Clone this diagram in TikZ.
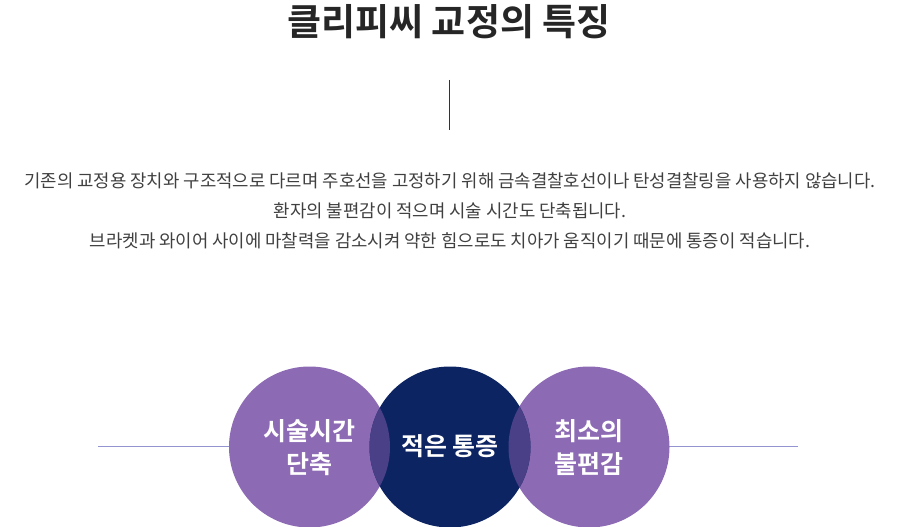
\documentclass[tikz,border=0pt]{standalone}
\usepackage{fontspec}
\setmainfont{Noto Sans CJK KR}
\newfontfamily\krbold{Noto Sans CJK KR Bold}
\begin{document}
\begin{tikzpicture}[x=1pt,y=-1pt,
  body/.style={font=\fontsize{17.8}{20}\selectfont, text=black!75, inner sep=0},
  ctext/.style={font=\krbold\fontsize{25}{33}\selectfont, text=white, align=center, inner sep=0},
  hline/.style={draw=blue!40!gray!60, line width=0.8pt}]
\definecolor{pur}{HTML}{8D6AB4}
\definecolor{navy}{HTML}{0D2462}
\definecolor{mix}{HTML}{4A4088}
\useasboundingbox (0,0) rectangle (900,527);
\node[inner sep=0, font=\krbold\fontsize{37}{40}\selectfont, text=black!85] (title) at (449,22) {클리피씨 교정의 특징};
\coordinate (v1) at (449,80); \coordinate (v2) at (449,130);
\draw[line width=0.8pt, black!80] (v1) -- (v2);
\node[body] (l1) at (450,181) {기존의 교정용 장치와 구조적으로 다르며 주호선을 고정하기 위해 금속결찰호선이나 탄성결찰링을 사용하지 않습니다.};
\node[body] (l2) at (450,211) {환자의 불편감이 적으며 시술 시간도 단축됩니다.};
\node[body] (l3) at (450,241) {브라켓과 와이어 사이에 마찰력을 감소시켜 약한 힘으로도 치아가 움직이기 때문에 통증이 적습니다.};
\coordinate (a1) at (98,446); \coordinate (a2) at (232,446);
\coordinate (b1) at (666,446); \coordinate (b2) at (798,446);
\draw[hline] (a1) -- (a2);
\draw[hline] (b1) -- (b2);
\fill[pur] (309.5,447) circle (80.5);
\fill[pur] (589,447) circle (80.5);
\fill[navy] (450,447) circle (80.5);
\begin{scope}
\clip (309.5,447) circle (80.5);
\fill[mix] (450,447) circle (80.5);
\end{scope}
\begin{scope}
\clip (589,447) circle (80.5);
\fill[mix] (450,447) circle (80.5);
\end{scope}
\node[ctext] (c1) at (309,448) {시술시간\\단축};
\node[ctext] (c2) at (450,446) {적은 통증};
\node[ctext] (c3) at (589,448) {최소의\\불편감};
\end{tikzpicture}
\end{document}
